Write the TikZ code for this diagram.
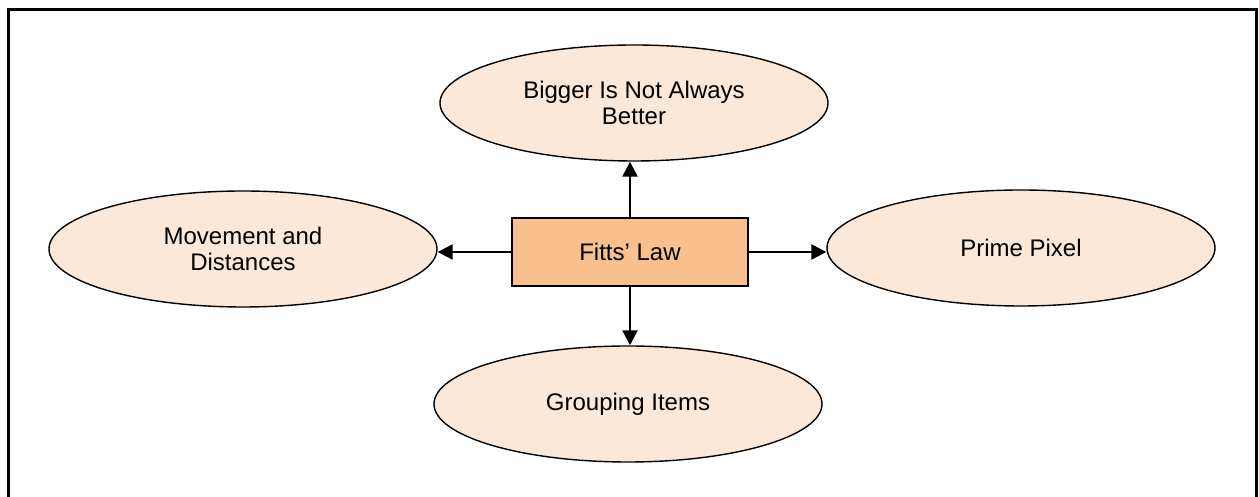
\documentclass[tikz,border=0pt]{standalone}
\usepackage{fontspec}
\setmainfont{Liberation Sans}
\usetikzlibrary{arrows.meta,shapes.geometric}
\definecolor{flPeach}{HTML}{F9C08E}
\definecolor{flCream}{HTML}{FCE8D9}
\tikzset{
  fl frame/.style={draw=black, line width=1.5pt},
  fl law/.style={rectangle, draw=black, fill=flPeach, line width=0.7pt, minimum width=118pt, minimum height=34pt, inner sep=0pt, font=\fontsize{12pt}{13pt}\selectfont},
  fl topic/.style={ellipse, draw=black, fill=flCream, line width=0.7pt, minimum width=194pt, minimum height=58pt, inner sep=0pt, align=center, font=\fontsize{12pt}{13pt}\selectfont},
  fl arrow/.style={draw=black, line width=1.2pt, -{Triangle[length=7.5pt,width=7.5pt]}},
}

\begin{document}
\begin{tikzpicture}[x=0.5pt,y=0.5pt]
  \useasboundingbox (0,0) rectangle (1259,497);
  % Outer frame, its bottom edge runs off the page
  \draw[fl frame] (8,-4) -- (8,487) -- (1256,487) -- (1256,-4);
  % Hub and the four topics
  \node[fl law] (law) at (630,245) {Fitts’ Law};
  \node[fl topic] (bigger) at (634,394) {Bigger Is Not Always\\Better};
  \node[fl topic] (movement) at (243,248) {Movement and\\Distances};
  \node[fl topic] (prime) at (1021,249) {Prime Pixel};
  \node[fl topic] (grouping) at (628,93) {Grouping Items};
  % Arrows out of the hub
  \draw[fl arrow] (law.north) -- (law.north |- bigger.south);
  \draw[fl arrow] (law.south) -- (law.south |- grouping.north);
  \draw[fl arrow] (law.west) -- (law.west -| movement.east);
  \draw[fl arrow] (law.east) -- (law.east -| prime.west);
\end{tikzpicture}
\end{document}
